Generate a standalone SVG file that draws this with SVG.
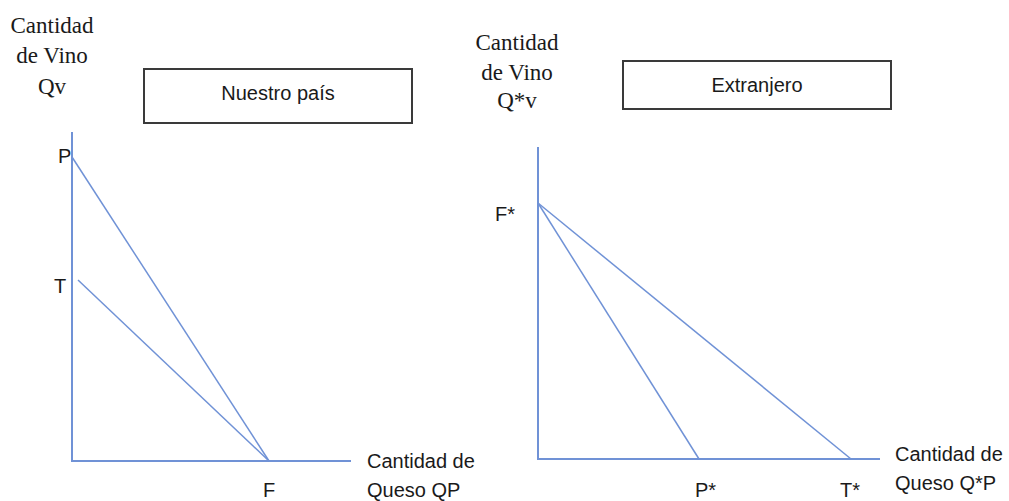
<svg xmlns="http://www.w3.org/2000/svg" width="1009" height="501" viewBox="0 0 1009 501">
<style>
.serif{font-family:"Liberation Serif","Times New Roman",serif;font-size:23px;fill:#1a1a1a;text-anchor:middle}
.sans{font-family:"Liberation Sans",Arial,sans-serif;font-size:20px;fill:#1a1a1a}
.box{fill:#ffffff;stroke:#3a3a3a;stroke-width:2}
.axis{stroke:#7092d6;stroke-width:2;fill:none}
.curve{stroke:#7092d6;stroke-width:1.5;fill:none}
</style>
<rect width="1009" height="501" fill="#ffffff"/>
<g id="title-left">
<rect class="box" x="144" y="69" width="268" height="54"/>
<text class="sans" x="278" y="100" text-anchor="middle">Nuestro país</text>
</g>
<g id="title-right">
<rect class="box" x="623" y="61" width="268" height="48"/>
<text class="sans" x="757" y="92" text-anchor="middle">Extranjero</text>
</g>
<g id="ylabel-left">
<text class="serif" x="52" y="33">Cantidad</text>
<text class="serif" x="52" y="63">de Vino</text>
<text class="serif" x="52" y="94">Qv</text>
</g>
<g id="ylabel-right">
<text class="serif" x="517" y="50">Cantidad</text>
<text class="serif" x="517" y="80">de Vino</text>
<text class="serif" x="517" y="108">Q*v</text>
</g>
<g id="connectors">
<polyline class="axis" points="72,132 72,461 351,461"/>
<line class="curve" x1="72" y1="157" x2="269" y2="461"/>
<line class="curve" x1="78" y1="280" x2="269" y2="461"/>
<polyline class="axis" points="538,147 538,459 880,459"/>
<line class="curve" x1="538" y1="203" x2="699" y2="459"/>
<line class="curve" x1="538" y1="203" x2="851" y2="459"/>
</g>
<g id="points-left">
<text class="sans" x="58" y="163">P</text>
<text class="sans" x="54" y="293">T</text>
<text class="sans" x="263" y="497">F</text>
</g>
<g id="points-right">
<text class="sans" x="495" y="221">F*</text>
<text class="sans" x="695" y="497">P*</text>
<text class="sans" x="840" y="497">T*</text>
</g>
<g id="xlabel-left">
<text class="sans" x="367" y="468">Cantidad de</text>
<text class="sans" x="367" y="497">Queso QP</text>
</g>
<g id="xlabel-right">
<text class="sans" x="895" y="461">Cantidad de</text>
<text class="sans" x="895" y="490">Queso Q*P</text>
</g>
</svg>
